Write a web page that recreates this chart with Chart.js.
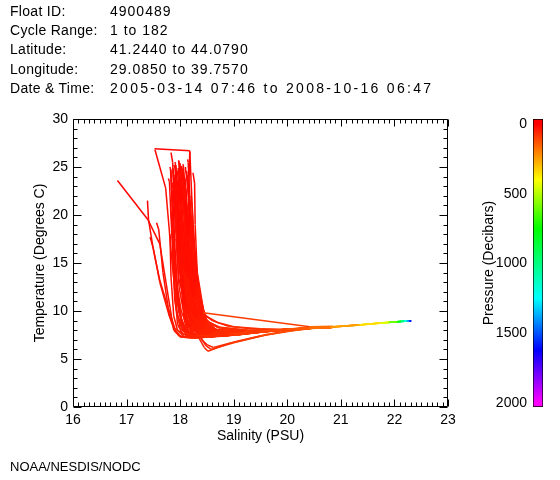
<!DOCTYPE html>
<html>
<head>
<meta charset="utf-8">
<script src="https://cdn.jsdelivr.net/npm/chart.js@4.4.1/dist/chart.umd.min.js"></script>
<style>
html,body{margin:0;padding:0;background:#fff;}
#wrap{position:relative;width:560px;height:480px;overflow:hidden;font-family:"Liberation Sans",Arial,sans-serif;font-size:14px;color:#000;}
.txt{position:absolute;line-height:20px;white-space:pre;}
canvas{position:absolute;top:0;}
#main{left:0;}
#cbar{left:470px;}
</style>
</head>
<body>
<div id="wrap">
<canvas id="main" width="560" height="480"></canvas>
<canvas id="cbar" width="90" height="480"></canvas>
</div>
<script>
// ---------------- header / footer text ----------------
const headerLabels = ["Float ID:", "Cycle Range:", "Latitude:", "Longitude:", "Date & Time:"];
const headerValues = ["4900489", "1 to 182", "41.2440 to 44.0790", "29.0850 to 39.7570", "2005-03-14 07:46 to 2008-10-16 06:47"];
const footerText = "NOAA/NESDIS/NODC";

// ---------------- axes ----------------
const xTickLabels = [16, 17, 18, 19, 20, 21, 22, 23];
const yTickLabels = [0, 5, 10, 15, 20, 25, 30];
const colorbarTicks = [0, 500, 1000, 1500, 2000];

// ---------------- profile data ----------------
// pressure (decibars) of each level in a profile
const pressureLevels = [2, 10, 20, 30, 40, 50, 60, 80, 100, 125, 150, 200, 300, 400, 500, 700, 900, 1100, 1300, 1500, 1650];

// salinity (PSU) per profile, one value per pressure level (null = missing)
const salinityProfiles = [
  [17.82,17.83,17.86,17.9,17.95,18.05,18.3,18.9,19.5,20.0,20.4,20.8, 21.35,21.75,21.9,22.05,22.12,22.19,22.24,22.28,22.31],
  [17.9,17.92,17.97,18.05,18.15,18.3,18.55,19.1,19.7,20.15,20.45,20.85],
  [18.0,18.01,18.06,18.15,18.25,18.4,18.6,19.2,19.75,20.2,20.5,20.9, 21.3,21.72,21.88,22.04,22.12,22.18,22.23,22.27,22.3],
  [18.08,18.1,18.15,18.25,18.35,18.45,18.65,19.2,19.8,20.2,20.45,20.85],
  [17.95,17.96,18.0,18.08,18.2,18.35,18.55,19.0,19.6,20.1,20.4,20.8],
  [17.88,17.9,17.95,18.05,18.2,18.38,18.7,19.3,19.85,20.25,20.5,20.9, 21.38,21.78,21.92,22.06,22.13,22.19,22.24,22.28,22.31],
  [18.12,18.13,18.18,18.28,18.38,18.48,18.7,19.25,19.8,20.2,20.45,20.85],
  [17.85,17.86,17.9,17.98,18.1,18.25,18.45,19.0,19.6,20.1,20.4,20.8],
  [18.02,18.03,18.1,18.2,18.3,18.42,18.6,19.1,19.7,20.15,20.45,20.85],
  [17.92,17.93,17.98,18.08,18.2,18.35,18.6,19.15,19.75,20.2,20.5,20.9, 21.32,21.74,21.89,22.05,22.12,22.18,22.23,22.27],
  [17.78,17.8,17.84,17.9,18.0,18.15,18.4,18.95,19.55,20.05,20.4,20.8],
  [18.15,18.16,18.2,18.3,18.4,18.5,18.7,19.25,19.8,20.2,20.45,20.85],
  [17.52,18.18,18.22,18.3,18.4,18.5,18.7,19.2,19.8,20.2,20.45,20.85],
  [17.53,17.62,17.73,17.85,17.95,18.1,18.35,18.9,19.5,20.0,20.4,20.8],
  [17.83,17.86,17.9,17.98,18.1,18.25,18.5,19.05,19.65,20.1,20.45,20.85],
  [18.18,18.16,18.17,18.22,18.3,18.42,18.65,19.2,19.75,20.2,20.5,20.9],
  [18.24,18.27,18.28,18.33,18.4,18.5,18.7,19.2,19.8,20.2,20.45,20.85],
  [17.97,17.98,18.02,18.1,18.22,18.36,18.58,19.1,19.7,20.15,20.45,20.85],
  [18.05,18.06,18.1,18.18,18.28,18.4,18.6,19.15,19.75,20.2,20.45,20.85, 21.36,21.76,21.9,22.06,22.13,22.2,22.25,22.29,22.32],
  [17.87,17.88,17.92,18.0,18.1,18.22,18.45,19.0,19.6,20.1,20.4,20.8],
  [17.85,17.87,17.9,17.96,18.05,18.2,18.45,19.0,19.6,20.1,20.4,20.8],
  [17.95,17.97,18.02,18.1,18.22,18.38,18.6,19.1,19.7,20.15,20.45,20.85],
  [18.05,18.07,18.12,18.2,18.3,18.42,18.62,19.15,19.75,20.2,20.45,20.85, 21.33,21.73,21.88,22.04,22.11,22.18,22.23,22.27,22.3],
  [17.8,17.81,17.83,17.88,17.95,18.08,18.3,18.9,19.5,20.0,20.4,20.8],
  [18.1,18.12,18.18,18.27,18.36,18.45,18.62,19.15,19.75,20.2,20.45,20.85],
  [17.9,17.91,17.95,18.02,18.12,18.28,18.5,19.05,19.65,20.1,20.4,20.8],
  [18.0,18.02,18.08,18.18,18.3,18.42,18.6,19.1,19.7,20.15,20.45,20.85],
  [17.98,17.99,18.03,18.1,18.2,18.35,18.55,19.1,19.7,20.15,20.45,20.85],
  [18.08,18.09,18.13,18.22,18.32,18.44,18.65,19.2,19.75,20.2,20.45,20.85],
  [17.84,17.85,17.88,17.93,18.02,18.15,18.4,18.95,19.55,20.05,20.4,20.8],
  [17.93,17.94,17.97,18.03,18.12,18.26,18.48,19.0,19.6,20.1,20.4,20.8],
  [18.12,18.13,18.17,18.25,18.34,18.45,18.65,19.2,19.8,20.2,20.45,20.85],
  [16.83,17.4,17.62,17.81,17.88,18.0,18.25,18.85,19.5,20.0,20.4,20.8],
  [17.39,17.41,17.5,17.62,17.75,17.9,18.15,18.8,19.45,20.0,20.4,20.8],
  [17.56,17.6,17.68,17.8,17.9,18.02,18.25,18.85,19.5,20.0,20.4,20.8],
  [17.44,17.5,17.62,17.78,17.88,18.0,18.22,18.85,19.5,20.0,20.4,20.8],
  [18.1,18.12,18.2,18.3,18.43,null,null,null,null,null,20.42,20.85],
  [18.3,18.31,18.35,18.4,18.43,18.5,18.7,19.2,19.8,20.2,20.45,20.85],
  [18.3,18.3,18.31,18.32,18.35,18.45,18.65,19.2,19.75,20.2,20.45,20.85],
  [18.4,18.4,18.41,18.42,18.45,18.55,18.75,19.3,19.8,20.2,20.45,20.85],
  [18.2,18.2,18.21,18.22,18.26,18.38,18.6,19.15,19.75,20.2,20.45,20.85],
  [18.1,18.1,18.1,18.12,18.16,18.3,18.5,19.05,19.65,20.1,20.45,20.85],
  [18.35,18.35,18.36,18.38,18.42,18.6,18.9,19.4,19.85,20.25,20.5,20.9],
  [18.25,18.25,18.27,18.3,18.36,18.5,18.75,19.25,19.8,20.2,20.45,20.85],
  [18.05,18.05,18.06,18.08,18.12,18.22,18.45,19.0,19.6,20.1,20.4,20.8],
  [18.42,18.42,18.43,18.45,18.5,18.7,19.0,19.5,19.9,20.25,20.5,20.9],
  [18.0,18.02,18.08,18.2,18.35,18.45,18.52,18.9,19.5,20.0,20.4,20.8],
  [18.1,18.12,18.18,18.28,18.38,18.48,18.58,19.0,19.6,20.1,20.45,20.85],
  [18.2,18.22,18.26,18.32,18.4,18.5,18.62,19.1,19.65,20.1,20.45,20.85],
  [17.96,17.97,18.0,18.06,18.15,18.3,18.52,19.05,19.65,20.1,20.45,20.85],
  [18.03,18.04,18.07,18.12,18.2,18.32,18.55,19.1,19.7,20.15,20.45,20.85],
  [17.9,17.91,17.93,17.97,18.05,18.18,18.42,19.0,19.6,20.1,20.4,20.8],
  [18.14,18.15,18.18,18.24,18.32,18.42,18.62,19.15,19.75,20.2,20.45,20.85],
  [17.81,17.82,17.84,17.88,17.94,18.05,18.3,18.9,19.5,20.0,20.4,20.8],
  [17.98,17.99,18.04,18.18,18.32,18.42,18.6,19.1,19.7,20.15,20.45,20.85],
  [18.06,18.07,18.12,18.25,18.38,18.46,18.65,19.2,19.75,20.2,20.45,20.85],
  [17.93,17.95,18.02,18.16,18.3,18.4,18.58,19.1,19.7,20.15,20.45,20.85],
  [18.1,18.11,18.16,18.28,18.4,18.47,18.66,19.2,19.8,20.2,20.45,20.85],
  [17.88,17.9,17.98,18.12,18.26,18.36,18.55,19.05,19.65,20.1,20.4,20.8],
  [18.0,18.01,18.07,18.22,18.36,18.44,18.62,19.15,19.75,20.2,20.45,20.85],
  [17.94,17.95,18.0,18.14,18.28,18.38,18.56,19.1,19.7,20.15,20.45,20.85],
  [18.04,18.05,18.1,18.24,18.36,18.44,18.62,19.15,19.75,20.2,20.45,20.85],
  [17.92,17.93,17.97,18.1,18.24,18.34,18.52,19.05,19.65,20.1,20.4,20.8],
  [18.08,18.09,18.14,18.26,18.38,18.46,18.64,19.15,19.75,20.2,20.45,20.85],
  [17.86,17.87,17.92,18.04,18.18,18.3,18.5,19.0,19.6,20.1,20.4,20.8],
  [18.0,18.0,18.05,18.18,18.33,18.43,18.6,19.1,19.7,20.15,20.45,20.85],
  [17.9,17.91,17.96,18.08,18.22,18.34,18.54,19.05,19.65,20.1,20.4,20.8],
  [18.12,18.13,18.2,18.32,18.42,18.48,18.66,19.2,19.8,20.2,20.45,20.85],
  [17.96,17.97,18.02,18.15,18.3,18.4,18.58,19.1,19.7,20.15,20.45,20.85],
  [18.02,18.03,18.08,18.2,18.34,18.43,18.6,19.1,19.7,20.15,20.45,20.85],
  [17.84,17.86,17.9,18.0,18.14,18.26,18.48,19.0,19.6,20.1,20.4,20.8],
  [18.16,18.17,18.22,18.34,18.44,18.5,18.68,19.2,19.8,20.2,20.45,20.85],
  [17.86,17.87,17.89,17.95,18.06,18.2,18.42,18.95,19.55,20.05,20.4,20.8],
  [17.91,17.92,17.94,17.99,18.1,18.24,18.46,19.0,19.6,20.1,20.4,20.8],
  [18.04,18.05,18.07,18.12,18.22,18.34,18.56,19.1,19.7,20.15,20.45,20.85],
  [18.1,18.1,18.13,18.2,18.3,18.4,18.6,19.15,19.75,20.2,20.45,20.85],
  [17.99,18.0,18.03,18.09,18.2,18.33,18.55,19.1,19.7,20.15,20.45,20.85],
  [17.88,17.89,17.92,17.99,18.1,18.22,18.44,19.0,19.6,20.1,20.4,20.8],
  [18.06,18.07,18.1,18.17,18.28,18.4,18.6,19.15,19.75,20.2,20.45,20.85],
  [17.95,17.96,17.99,18.06,18.17,18.3,18.52,19.05,19.65,20.1,20.4,20.8],
  [18.14,18.15,18.18,18.26,18.36,18.45,18.64,19.2,19.8,20.2,20.45,20.85],
  [17.82,17.83,17.86,17.92,18.02,18.16,18.4,18.95,19.55,20.05,20.4,20.8],
  [18.2,18.21,18.24,18.3,18.38,18.46,18.66,19.2,19.8,20.2,20.45,20.85],
  [17.97,17.98,18.0,18.05,18.14,18.27,18.5,19.05,19.65,20.1,20.4,20.8],
  [18.07,18.08,18.11,18.18,18.3,18.42,18.62,19.15,19.75,20.2,20.45,20.85],
  [17.93,17.94,17.96,18.02,18.12,18.25,18.48,19.0,19.6,20.1,20.4,20.8],
  [18.02,18.03,18.06,18.13,18.24,18.36,18.57,19.1,19.7,20.15,20.45,20.85]
];

// temperature (degrees C) per profile, one value per pressure level (null = missing)
const temperatureProfiles = [
  [24.8,24.6,19.5,12.0,8.6,7.6,7.4,7.6,7.9,8.1,8.2,8.3, 8.55,8.75,8.82,8.88,8.91,8.93,8.95,8.96,8.98],
  [24.2,23.8,17.0,10.5,8.3,7.5,7.5,7.7,7.95,8.1,8.2,8.3],
  [25.0,24.9,21.0,13.5,9.4,8.0,7.7,7.8,8.0,8.15,8.25,8.35, 8.52,8.73,8.8,8.87,8.9,8.93,8.94,8.96,8.97],
  [24.0,23.5,18.0,11.5,9.0,8.2,7.9,7.9,8.0,8.15,8.25,8.35],
  [23.5,23.2,16.0,10.0,8.2,7.6,7.5,7.6,7.9,8.1,8.2,8.3],
  [25.2,25.0,22.0,14.5,9.8,8.1,7.7,7.8,8.0,8.15,8.25,8.35, 8.57,8.77,8.83,8.88,8.91,8.94,8.95,8.97,8.98],
  [24.6,24.2,19.0,12.5,9.6,8.6,8.0,7.9,8.0,8.15,8.25,8.35],
  [22.5,22.2,15.5,9.8,8.0,7.4,7.3,7.5,7.85,8.1,8.2,8.3],
  [23.0,22.7,18.5,12.0,9.2,8.1,7.7,7.8,8.0,8.15,8.25,8.35],
  [24.5,24.3,20.5,13.0,9.0,7.8,7.5,7.7,7.95,8.15,8.25,8.35, 8.54,8.74,8.81,8.87,8.9,8.92,8.94,8.96],
  [23.8,23.5,18.5,11.0,8.2,7.4,7.3,7.5,7.85,8.1,8.2,8.3],
  [23.2,22.8,17.5,11.8,9.3,8.4,7.9,7.9,8.0,8.15,8.25,8.35],
  [26.9,26.7,21.5,13.0,9.5,8.3,7.9,7.9,8.0,8.15,8.25,8.35],
  [26.8,25.0,22.8,15.0,9.5,7.8,7.4,7.6,7.9,8.1,8.2,8.3],
  [26.5,25.5,20.0,12.5,8.8,7.6,7.4,7.6,7.9,8.1,8.2,8.3],
  [26.6,22.5,18.0,12.0,9.2,8.1,7.8,7.8,8.0,8.15,8.25,8.35],
  [24.4,23.3,19.0,12.5,9.8,8.5,8.0,7.9,8.0,8.15,8.25,8.35],
  [25.6,25.3,21.5,14.0,9.5,8.0,7.6,7.7,7.95,8.1,8.2,8.3],
  [25.3,25.1,22.5,15.5,10.0,8.3,7.8,7.8,8.0,8.15,8.25,8.35, 8.56,8.76,8.82,8.89,8.92,8.94,8.96,8.97,8.99],
  [24.1,23.9,21.0,14.0,9.2,7.7,7.4,7.6,7.9,8.1,8.2,8.3],
  [21.0,20.8,17.0,11.0,8.5,7.5,7.3,7.5,7.85,8.1,8.2,8.3],
  [20.0,19.7,15.5,10.5,8.5,7.7,7.5,7.7,7.95,8.1,8.2,8.3],
  [19.0,18.8,14.0,10.2,8.6,7.9,7.6,7.8,8.0,8.15,8.25,8.35, 8.53,8.74,8.8,8.87,8.9,8.92,8.94,8.96,8.97],
  [18.0,17.8,13.5,9.5,8.0,7.3,7.2,7.5,7.85,8.1,8.2,8.3],
  [17.0,16.8,13.0,10.0,9.0,8.3,7.9,7.9,8.0,8.15,8.25,8.35],
  [16.0,15.8,12.0,9.2,8.0,7.4,7.3,7.5,7.9,8.1,8.2,8.3],
  [15.0,14.8,11.5,9.3,8.3,7.7,7.5,7.7,7.95,8.1,8.2,8.3],
  [22.0,21.8,17.5,11.2,8.7,7.7,7.4,7.6,7.95,8.1,8.2,8.3],
  [21.5,21.2,16.5,11.5,9.3,8.2,7.8,7.8,8.0,8.15,8.25,8.35],
  [19.5,19.3,14.5,10.0,8.3,7.5,7.3,7.5,7.85,8.1,8.2,8.3],
  [23.0,22.9,19.5,13.0,9.0,7.6,7.3,7.5,7.9,8.1,8.2,8.3],
  [20.5,20.3,16.0,12.0,9.6,8.4,7.9,7.9,8.0,8.15,8.25,8.35],
  [23.6,19.5,17.0,10.4,8.0,7.3,7.2,7.4,7.8,8.05,8.2,8.3],
  [21.5,19.5,16.4,13.2,10.8,8.2,7.3,7.45,7.8,8.05,8.2,8.3],
  [19.2,18.5,14.0,9.5,8.0,7.3,7.2,7.45,7.8,8.05,8.2,8.3],
  [17.7,16.5,13.0,9.8,8.2,7.4,7.25,7.45,7.8,8.05,8.2,8.3],
  [18.5,18.2,14.0,11.5,9.82,null,null,null,null,null,8.36,8.4],
  [13.5,13.3,11.5,10.9,10.2,9.0,8.3,8.0,8.0,8.15,8.25,8.35],
  [9.4,9.4,9.38,9.35,9.2,8.6,8.0,7.9,8.0,8.15,8.25,8.35],
  [9.6,9.6,9.58,9.5,9.3,8.8,8.3,8.0,8.0,8.15,8.25,8.35],
  [8.6,8.6,8.58,8.55,8.4,7.9,7.6,7.7,7.95,8.1,8.2,8.3],
  [8.0,8.0,7.98,7.95,7.8,7.5,7.4,7.6,7.9,8.1,8.2,8.3],
  [10.5,10.5,10.4,10.2,9.8,9.0,8.4,8.1,8.05,8.2,8.25,8.35],
  [12.0,11.9,11.3,10.5,9.6,8.8,8.2,7.9,8.0,8.15,8.25,8.35],
  [11.0,10.9,10.2,9.0,8.2,7.6,7.3,7.5,7.9,8.1,8.2,8.3],
  [9.9,9.9,9.85,9.7,9.4,8.8,8.35,8.15,8.1,8.2,8.25,8.35],
  [22.0,21.5,16.0,10.0,7.2,6.2,5.8,6.6,7.4,7.9,8.15,8.3],
  [17.5,17.2,13.0,9.3,7.3,6.4,6.0,6.7,7.5,7.95,8.2,8.3],
  [14.5,14.3,11.0,8.5,7.0,6.5,6.2,6.9,7.6,8.0,8.2,8.3],
  [24.9,24.7,22.0,16.0,10.5,8.2,7.6,7.7,7.95,8.1,8.2,8.3],
  [24.3,24.1,23.0,18.0,12.0,8.8,7.7,7.7,7.95,8.1,8.2,8.3],
  [25.5,25.4,23.5,18.5,11.5,8.2,7.4,7.5,7.9,8.1,8.2,8.3],
  [25.8,25.5,22.0,16.5,11.0,8.6,7.8,7.8,8.0,8.15,8.25,8.35],
  [25.0,24.8,22.5,17.0,11.0,8.0,7.3,7.5,7.85,8.1,8.2,8.3],
  [24.0,23.8,19.0,13.0,10.0,8.4,7.6,7.7,7.95,8.1,8.2,8.3],
  [23.6,23.4,18.0,12.5,9.8,8.5,7.8,7.8,8.0,8.15,8.25,8.35],
  [24.7,24.5,20.0,14.0,10.5,8.3,7.5,7.6,7.95,8.1,8.2,8.3],
  [22.8,22.5,17.0,12.0,9.6,8.5,7.9,7.9,8.0,8.15,8.25,8.35],
  [23.9,23.7,19.5,13.5,10.2,8.2,7.5,7.6,7.9,8.1,8.2,8.3],
  [21.8,21.6,16.5,12.0,9.7,8.4,7.7,7.8,8.0,8.15,8.25,8.35],
  [20.8,20.6,15.5,11.5,9.5,8.1,7.5,7.6,7.95,8.1,8.2,8.3],
  [18.5,18.3,14.5,11.0,9.4,8.3,7.7,7.8,8.0,8.15,8.25,8.35],
  [17.5,17.3,13.5,10.6,9.0,7.9,7.4,7.5,7.9,8.1,8.2,8.3],
  [16.5,16.3,13.0,10.8,9.5,8.4,7.8,7.8,8.0,8.15,8.25,8.35],
  [24.9,24.7,21.5,15.0,10.8,8.2,7.4,7.5,7.9,8.1,8.2,8.3],
  [25.4,25.2,22.5,16.0,11.5,8.6,7.6,7.7,7.95,8.1,8.2,8.3],
  [22.2,22.0,18.0,13.0,9.9,8.0,7.4,7.5,7.9,8.1,8.2,8.3],
  [24.2,24.0,20.0,14.0,10.6,8.7,7.9,7.9,8.0,8.15,8.25,8.35],
  [19.8,19.6,15.0,11.3,9.4,8.1,7.5,7.6,7.95,8.1,8.2,8.3],
  [25.1,24.9,23.0,17.5,12.5,9.0,7.7,7.7,7.95,8.1,8.2,8.3],
  [23.4,23.2,20.0,14.5,10.5,8.0,7.3,7.5,7.9,8.1,8.2,8.3],
  [21.2,21.0,16.5,12.5,10.0,8.7,8.0,7.9,8.0,8.15,8.25,8.35],
  [24.6,24.4,22.0,17.5,12.0,8.4,7.4,7.5,7.85,8.1,8.2,8.3],
  [25.2,25.0,23.0,18.5,13.0,8.8,7.5,7.6,7.9,8.1,8.2,8.3],
  [24.8,24.6,22.5,19.0,13.5,9.2,7.7,7.7,7.95,8.1,8.2,8.3],
  [25.0,24.8,23.5,19.5,14.0,9.5,7.9,7.8,8.0,8.15,8.25,8.35],
  [23.2,23.0,21.0,16.5,11.5,8.7,7.6,7.7,7.95,8.1,8.2,8.3],
  [22.0,21.8,19.5,15.0,11.0,8.3,7.4,7.5,7.9,8.1,8.2,8.3],
  [21.0,20.8,18.5,14.5,11.2,8.8,7.8,7.8,8.0,8.15,8.25,8.35],
  [20.2,20.0,17.5,13.5,10.5,8.3,7.5,7.6,7.9,8.1,8.2,8.3],
  [19.5,19.3,17.0,13.5,10.8,9.0,8.0,7.9,8.0,8.15,8.25,8.35],
  [20.5,20.3,18.0,13.5,10.0,7.9,7.3,7.5,7.85,8.1,8.2,8.3],
  [22.0,21.8,19.0,14.5,11.5,9.3,8.1,7.9,8.0,8.15,8.25,8.35],
  [25.7,25.5,24.0,19.5,13.5,8.8,7.5,7.6,7.9,8.1,8.2,8.3],
  [23.8,23.6,21.5,17.0,12.5,9.2,7.8,7.8,8.0,8.15,8.25,8.35],
  [18.8,18.6,16.0,12.5,10.0,8.1,7.4,7.5,7.9,8.1,8.2,8.3],
  [17.0,16.8,14.5,11.8,9.8,8.4,7.6,7.7,7.95,8.1,8.2,8.3]
];

// ---------------- styling helpers ----------------
const FONT = '"Liberation Sans", Arial, sans-serif';
const hueStops = [[0, 0], [400, 60], [750, 120], [1250, 180], [1620, 240], [2000, 300]];
function pressureColor(p) {
  let h = 300;
  for (let i = 1; i < hueStops.length; i++) {
    if (p <= hueStops[i][0]) {
      const [p0, h0] = hueStops[i - 1], [p1, h1] = hueStops[i];
      h = h0 + (h1 - h0) * (p - p0) / (p1 - p0);
      break;
    }
  }
  return `hsl(${Math.max(0, h).toFixed(1)},100%,50%)`;
}

// ---------------- header & footer ----------------
const wrap = document.getElementById('wrap');
const rowTops = [0.5, 19.5, 39, 58.5, 78];
const rowSpacing = ['1px', '1px', '1px', '1px', '2.3px'];
headerLabels.forEach((t, i) => {
  const a = document.createElement('div'); a.className = 'txt'; a.style.left = '10px'; a.style.top = rowTops[i] + 'px'; a.style.letterSpacing = '0.3px'; a.textContent = t; wrap.appendChild(a);
  const b = document.createElement('div'); b.className = 'txt'; b.style.left = '110px'; b.style.top = rowTops[i] + 'px'; b.style.letterSpacing = rowSpacing[i]; b.textContent = headerValues[i]; wrap.appendChild(b);
});
const f = document.createElement('div'); f.className = 'txt'; f.style.left = '10px'; f.style.top = '457px'; f.style.fontSize = '13px'; f.textContent = footerText; wrap.appendChild(f);

// ---------------- datasets ----------------
const datasets = salinityProfiles.map((sal, k) => {
  const tem = temperatureProfiles[k];
  const pts = [];
  sal.forEach((s, i) => { if (s !== null && tem[i] !== null) pts.push({ x: s, y: tem[i], p: pressureLevels[i] }); });
  return {
    data: pts,
    showLine: true,
    borderColor: pressureColor(0),
    borderWidth: 1.5,
    pointRadius: 0,
    tension: 0,
    segment: {
      borderColor: c => {
        const d = c.chart.data.datasets[c.datasetIndex].data;
        return pressureColor((d[c.p0DataIndex].p + d[c.p1DataIndex].p) / 2);
      }
    }
  };
});

// frame with inward major/minor ticks, positioned through the chart scales
const frameTicks = {
  id: 'frameTicks',
  afterDatasetsDraw(chart) {
    const { ctx, chartArea: a, scales: { x, y } } = chart;
    ctx.save();
    ctx.strokeStyle = '#000';
    ctx.lineWidth = 1;
    const L = Math.round(a.left) + 0.5, R = Math.round(a.right) - 0.5, T = Math.round(a.top) + 0.5, B = Math.round(a.bottom) - 0.5;
    ctx.beginPath();
    ctx.rect(L, T, R - L, B - T);
    const x0 = xTickLabels[0], x1 = xTickLabels[xTickLabels.length - 1];
    for (let i = 0; i <= (x1 - x0) * 10; i++) {
      const px = Math.round(x.getPixelForValue(x0 + i / 10)) + 0.5;
      const len = i % 10 === 0 ? 7 : 4;
      ctx.moveTo(px, B); ctx.lineTo(px, B - len);
      ctx.moveTo(px, T); ctx.lineTo(px, T + len);
    }
    const y0 = yTickLabels[0], y1 = yTickLabels[yTickLabels.length - 1];
    for (let v = y0; v <= y1; v++) {
      const py = Math.round(y.getPixelForValue(v)) + 0.5;
      const len = v % 5 === 0 ? 8 : 4;
      ctx.moveTo(L, py); ctx.lineTo(L + len, py);
      ctx.moveTo(R, py); ctx.lineTo(R - len, py);
    }
    ctx.stroke();
    ctx.restore();
  }
};

const tickFont = { family: FONT, size: 14 };
new Chart(document.getElementById('main'), {
  type: 'scatter',
  data: { datasets },
  options: {
    responsive: false,
    animation: false,
    events: [],
    layout: { padding: { left: 0, top: 119, right: 112, bottom: 33 } },
    plugins: { legend: { display: false }, tooltip: { enabled: false } },
    scales: {
      x: {
        type: 'linear', min: xTickLabels[0], max: xTickLabels[xTickLabels.length - 1],
        afterFit: s => { s.height = 40; },
        afterBuildTicks: s => { s.ticks = xTickLabels.map(v => ({ value: v })); },
        ticks: { color: '#000', font: tickFont, padding: 5, maxRotation: 0, autoSkip: false, callback: v => String(v) },
        grid: { display: false, drawTicks: false },
        border: { display: false },
        title: { display: true, text: 'Salinity (PSU)', color: '#000', font: tickFont, padding: { top: 0, bottom: 2 } }
      },
      y: {
        type: 'linear', min: yTickLabels[0], max: yTickLabels[yTickLabels.length - 1],
        afterFit: s => { s.width = 73; },
        afterBuildTicks: s => { s.ticks = yTickLabels.map(v => ({ value: v })); },
        ticks: { color: '#000', font: tickFont, padding: 5, callback: v => String(v) },
        grid: { display: false, drawTicks: false },
        border: { display: false },
        title: { display: true, text: 'Temperature (Degrees C)', color: '#000', font: tickFont, padding: { top: 32, bottom: 0 } }
      }
    }
  },
  plugins: [frameTicks]
});

// ---------------- colour bar ----------------
const cbMin = -36, cbMax = 2029;
new Chart(document.getElementById('cbar'), {
  type: 'bar',
  data: {
    labels: [''],
    datasets: [{
      data: [[cbMin, cbMax]],
      backgroundColor: c => {
        const ch = c.chart;
        if (!ch.chartArea || !ch.scales.y) return pressureColor(0);
        const ys = ch.scales.y;
        const top = colorbarTicks[colorbarTicks.length - 1];
        const g = ch.ctx.createLinearGradient(0, ys.getPixelForValue(colorbarTicks[0]), 0, ys.getPixelForValue(top));
        for (let p = 0; p <= top; p += 25) g.addColorStop(p / top, pressureColor(p));
        return g;
      },
      borderColor: '#000',
      borderWidth: 1,
      borderSkipped: false,
      barPercentage: 1,
      categoryPercentage: 1
    }]
  },
  options: {
    responsive: false,
    animation: false,
    events: [],
    layout: { padding: { left: 0, top: 119, right: 17, bottom: 73 } },
    plugins: { legend: { display: false }, tooltip: { enabled: false } },
    scales: {
      x: { display: false },
      y: {
        min: cbMin, max: cbMax, reverse: true,
        afterFit: s => { s.width = 63; },
        afterBuildTicks: s => { s.ticks = colorbarTicks.map(v => ({ value: v })); },
        ticks: { color: '#000', font: tickFont, padding: 6, callback: v => String(v) },
        grid: { display: false, drawTicks: false },
        border: { display: false },
        title: { display: true, text: 'Pressure (Decibars)', color: '#000', font: tickFont, padding: { top: 10.5, bottom: 0 } }
      }
    }
  }
});
</script>
</body>
</html>
